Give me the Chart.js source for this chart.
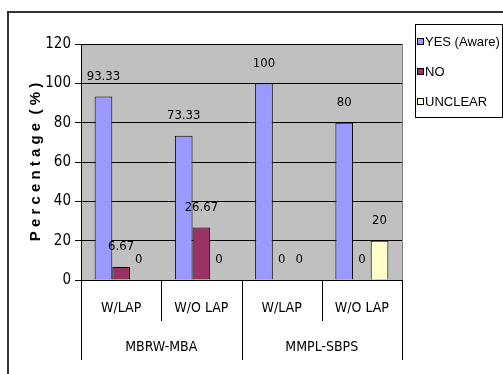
<!DOCTYPE html>
<html><head><meta charset="utf-8">
<script src="https://cdn.jsdelivr.net/npm/chart.js@4.4.0/dist/chart.umd.min.js"></script>
<style>html,body{margin:0;padding:0;background:#fff;overflow:hidden}</style>
</head><body><canvas id="c" width="503" height="374"></canvas>
<script>
// ---- data ----
const categories = ['W/LAP', 'W/O LAP', 'W/LAP', 'W/O LAP'];
const groups = ['MBRW-MBA', 'MMPL-SBPS'];
const groupSizes = [2, 2];
const seriesNames = ['YES (Aware)', 'NO', 'UNCLEAR'];
const yesValues = [93.33, 73.33, 100, 80];
const noValues = [6.67, 26.67, 0, 0];
const unclearValues = [0, 0, 0, 20];
const yTicks = [0, 20, 40, 60, 80, 100, 120];
const yTitle = 'P e r c e n t a g e  ( % )';
const seriesColors = ['#9999FF', '#993366', '#FFFFCC'];

const NARROW = '"DejaVu Sans Condensed", "Liberation Sans", sans-serif';
const SANS = '"Liberation Sans", Arial, sans-serif';

const framePlugin = {
  id: 'frame',
  beforeDraw(chart) {
    const {ctx, chartArea: a} = chart;
    ctx.save();
    ctx.fillStyle = '#fff';
    ctx.fillRect(0, 0, chart.width, chart.height);
    ctx.fillStyle = '#C0C0C0';
    ctx.fillRect(a.left, a.top, a.right - a.left, a.bottom - a.top);
    ctx.strokeStyle = '#333';
    ctx.lineWidth = 2;
    ctx.beginPath();
    ctx.moveTo(8, chart.height);
    ctx.lineTo(8, 12);
    ctx.lineTo(chart.width, 12);
    ctx.stroke();
    ctx.restore();
  },
  afterDraw(chart) {
    const {ctx, chartArea: a} = chart;
    const x = chart.scales.x;
    const n = categories.length;
    ctx.save();
    // plot right border
    ctx.strokeStyle = '#808080';
    ctx.lineWidth = 1;
    ctx.beginPath();
    ctx.moveTo(Math.round(a.right) + 0.5, a.top);
    ctx.lineTo(Math.round(a.right) + 0.5, a.bottom);
    ctx.stroke();
    // category separators
    const bounds = [];
    for (let i = 0; i <= n; i++) {
      let bx;
      if (i === 0) bx = a.left;
      else if (i === n) bx = a.right;
      else bx = (x.getPixelForValue(i - 1) + x.getPixelForValue(i)) / 2;
      bounds.push(bx);
    }
    const groupEdges = [0];
    groupSizes.reduce((s, g) => { groupEdges.push(s + g); return s + g; }, 0);
    ctx.strokeStyle = '#000';
    ctx.beginPath();
    bounds.forEach((bx, i) => {
      const isGroup = groupEdges.includes(i);
      const px = Math.round(bx) + 0.5;
      ctx.moveTo(px, a.bottom);
      ctx.lineTo(px, a.bottom + (isGroup ? 80 : 41));
    });
    ctx.stroke();
    // group labels
    ctx.fillStyle = '#000';
    ctx.font = '14px ' + NARROW;
    ctx.textAlign = 'center';
    ctx.textBaseline = 'middle';
    groups.forEach((g, gi) => {
      const cx = (bounds[groupEdges[gi]] + bounds[groupEdges[gi + 1]]) / 2;
      ctx.fillText(g, cx, a.bottom + 67);
    });
    // data labels
    ctx.font = '13px ' + NARROW;
    chart.data.datasets.forEach((ds, di) => {
      const meta = chart.getDatasetMeta(di);
      meta.data.forEach((el, i) => {
        ctx.fillText(String(ds.data[i]), el.x, el.y - 20);
      });
    });
    // legend
    const lx = 415, ly = 24, lw = 87, lh = 93;
    ctx.fillStyle = '#fff';
    ctx.fillRect(lx, ly, lw, lh);
    ctx.strokeStyle = '#000';
    ctx.strokeRect(lx + 0.5, ly + 0.5, lw, lh);
    ctx.font = '13px ' + SANS;
    ctx.textAlign = 'left';
    chart.data.datasets.forEach((ds, di) => {
      const cy = 42 + di * 30;
      ctx.fillStyle = ds.backgroundColor;
      ctx.fillRect(417.5, cy - 3.5, 6, 6);
      ctx.strokeStyle = '#000';
      ctx.strokeRect(417.5, cy - 3.5, 6, 6);
      ctx.fillStyle = '#000';
      ctx.fillText(ds.label, 425, cy);
    });
    ctx.restore();
  }
};

new Chart(document.getElementById('c'), {
  type: 'bar',
  data: {
    labels: categories,
    datasets: [
      {label: seriesNames[0], data: yesValues, backgroundColor: seriesColors[0]},
      {label: seriesNames[1], data: noValues, backgroundColor: seriesColors[1]},
      {label: seriesNames[2], data: unclearValues, backgroundColor: seriesColors[2]}
    ]
  },
  options: {
    responsive: false,
    animation: false,
    devicePixelRatio: 1,
    layout: {padding: {top: 44, right: 101, bottom: 0, left: 0}},
    datasets: {bar: {categoryPercentage: 0.66, barPercentage: 1.0, borderColor: '#000', borderWidth: 1}},
    plugins: {legend: {display: false}, tooltip: {enabled: false}},
    scales: {
      x: {
        grid: {display: false},
        border: {display: true, color: '#000', width: 1},
        ticks: {color: '#000', font: {family: NARROW, size: 14}, padding: 12, maxRotation: 0, autoSkip: false},
        afterFit(s) { s.height = 94; }
      },
      y: {
        min: 0, max: 120,
        afterBuildTicks(s) { s.ticks = yTicks.map(v => ({value: v})); },
        grid: {color: '#000', lineWidth: 1, tickLength: 6, tickColor: '#000'},
        border: {display: true, color: '#000', width: 1},
        ticks: {color: '#000', font: {family: NARROW, size: 15}, padding: 4},
        title: {display: true, text: yTitle, color: '#000', font: {family: SANS, size: 15, weight: 'bold'}, padding: {top: 27, bottom: 0}},
        afterFit(s) { s.width = 81; }
      }
    }
  },
  plugins: [framePlugin]
});
</script>
</body></html>
